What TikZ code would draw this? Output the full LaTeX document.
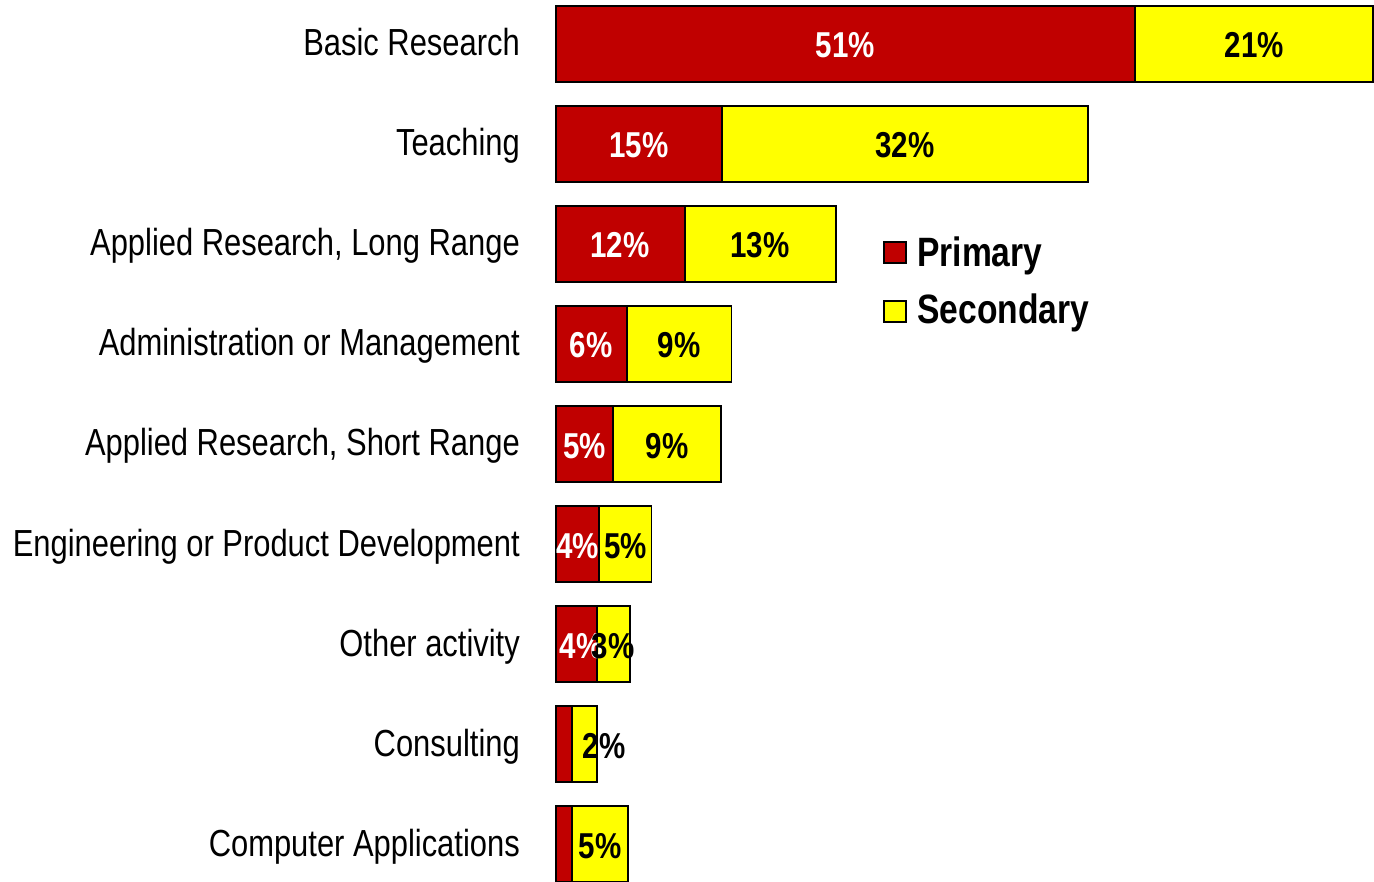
\documentclass[tikz,border=0pt]{standalone}
\usepackage{fontspec}
\setmainfont{Liberation Sans}[FakeStretch=0.82]
\definecolor{pri}{HTML}{C00000}
\definecolor{sec}{HTML}{FFFF00}
\begin{document}
\begin{tikzpicture}[x=1pt,y=-1pt,
 prim/.style={fill=pri,draw=black,line width=1.5pt},
 seco/.style={fill=sec,draw=black,line width=1.5pt},
 cat/.style={anchor=base east,inner sep=0pt,font=\fontsize{37.7}{40}\selectfont},
 vw/.style={anchor=base,inner sep=0pt,text=white,font=\fontsize{36}{38}\selectfont\bfseries},
 vb/.style={vw,text=black},
 leg/.style={anchor=base west,inner sep=0pt,font=\fontsize{41}{44}\selectfont\bfseries}]
\useasboundingbox (0,0) rectangle (1374,882);
% bars: index / split / right end
\foreach \i/\s/\e in {0/1135/1373,1/722/1088,2/685/836,3/627/731.5,4/613/721,5/599/651.5,6/597/630,7/572/597,8/572/628}{
  \pgfmathsetmacro{\t}{6+100*\i}
  \pgfmathsetmacro{\b}{82+100*\i}
  \draw[prim] (556,\t) rectangle (\s,\b);
  \draw[seco] (\s,\t) rectangle (\e,\b);
}
% category labels
\foreach \i/\txt in {0/Basic Research,1/Teaching,2/{Applied Research, Long Range},3/Administration or Management,4/{Applied Research, Short Range},5/Engineering or Product Development,6/Other activity,7/Consulting,8/Computer Applications}{
  \node[cat] (c\i) at (520,{56+100*\i}) {\txt};
}
% value labels
\node[vw] (p0) at (845.5,58) {51\%};
\node[vb] (s0) at (1254.5,58) {21\%};
\node[vw] (p1) at (639,158) {15\%};
\node[vb] (s1) at (905,158) {32\%};
\node[vw] (p2) at (620,258) {12\%};
\node[vb] (s2) at (760,258) {13\%};
\node[vw] (p3) at (591,358) {6\%};
\node[vb] (s3) at (679,358) {9\%};
\node[vw] (p4) at (584.5,458) {5\%};
\node[vb] (s4) at (667,458) {9\%};
\node[vw] (p5) at (577.5,558) {4\%};
\node[vb] (s5) at (625.5,558) {5\%};
\node[vw] (p6) at (581,658) {4\%};
\node[vb] (s6) at (613,658) {3\%};
\node[vb] (s7) at (604,758) {2\%};
\node[vb] (s8) at (600,858) {5\%};
% legend
\draw[prim] (884,242) rectangle (906,263);
\draw[seco] (884,301) rectangle (906,322);
\node[leg] (lp) at (917,267) {Primary};
\node[leg] (ls) at (917,324) {Secondary};
\end{tikzpicture}
\end{document}
